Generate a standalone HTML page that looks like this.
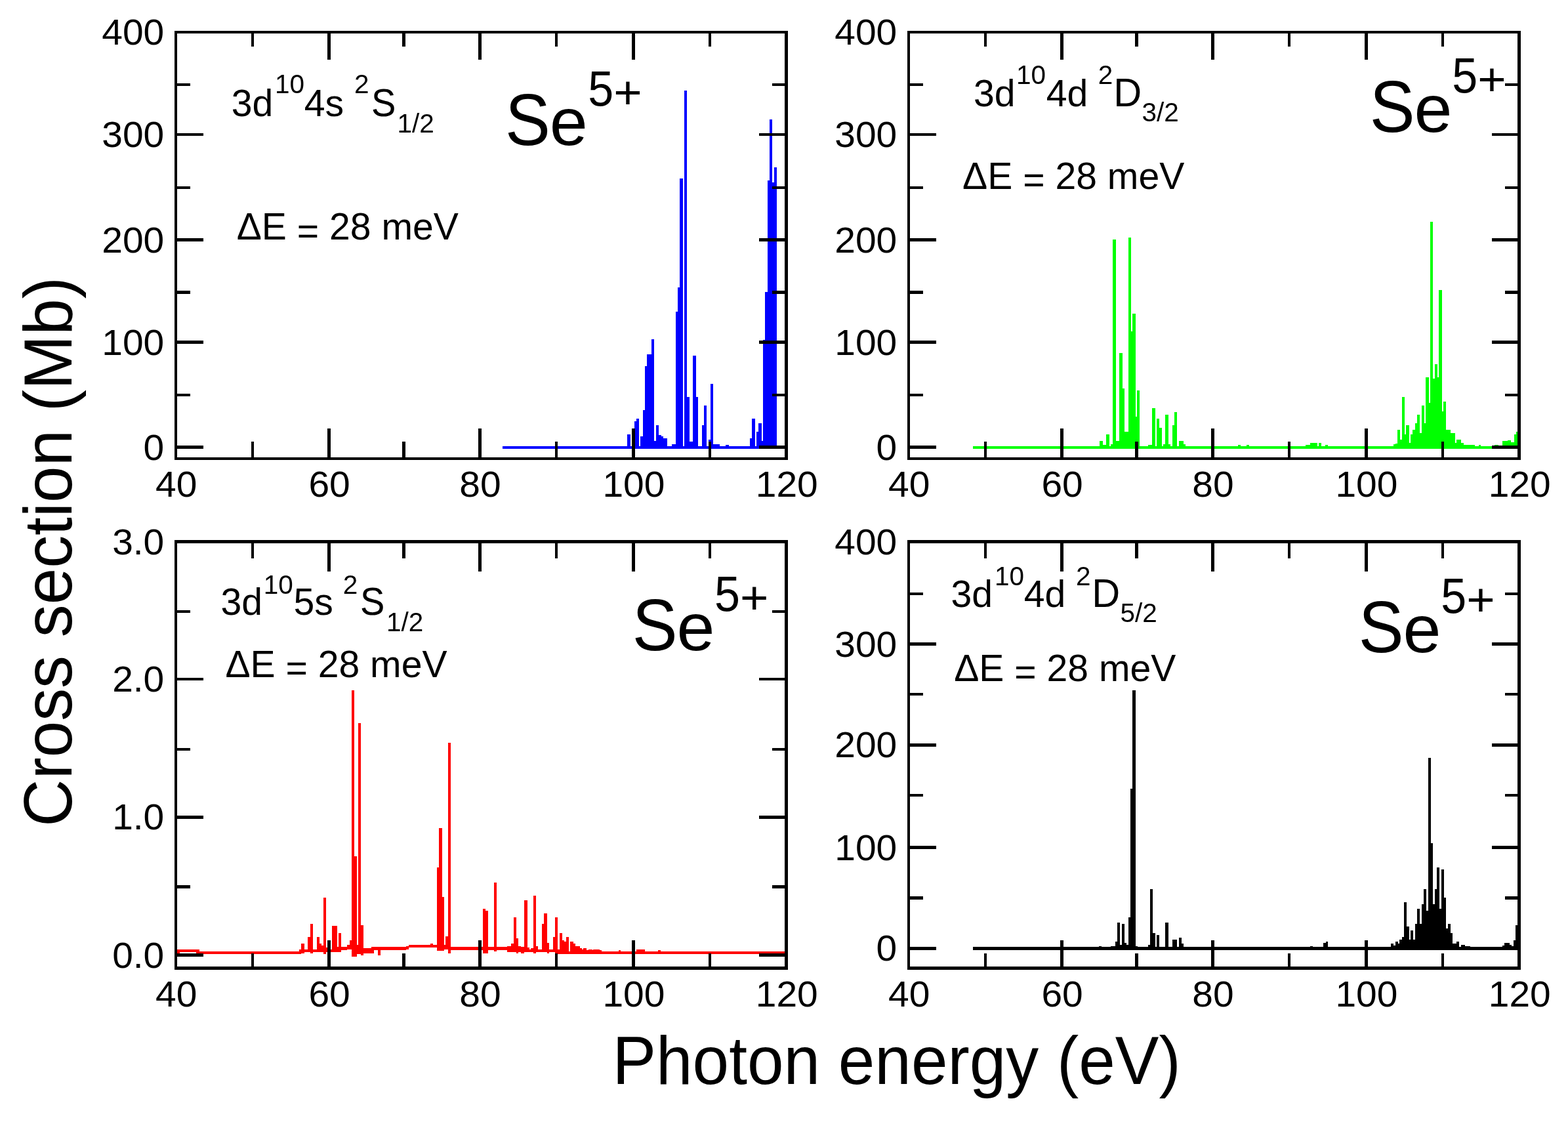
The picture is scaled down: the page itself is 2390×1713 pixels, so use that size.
<!DOCTYPE html><html><head><meta charset="utf-8"><title>Se5+ photoionization cross sections</title><style>html,body{margin:0;padding:0;background:#fff;overflow:hidden;}svg{display:block;}</style></head><body><svg width="2390" height="1713" viewBox="0 0 2390 1713" font-family='"Liberation Sans", Arial, Helvetica, sans-serif' fill="#000"><rect width="2390" height="1713" fill="#fff"/><g shape-rendering="crispEdges"><rect x="766.0" y="680.0" width="418.0" height="4.0" fill="#0000ff"/><rect x="956.2" y="662.0" width="4.5" height="22.0" fill="#0000ff"/><rect x="966.8" y="642.0" width="3.6" height="42.0" fill="#0000ff"/><rect x="970.4" y="638.4" width="3.4" height="45.6" fill="#0000ff"/><rect x="976.3" y="665.0" width="3.7" height="19.0" fill="#0000ff"/><rect x="980.0" y="625.0" width="3.0" height="59.0" fill="#0000ff"/><rect x="983.0" y="558.0" width="3.1" height="126.0" fill="#0000ff"/><rect x="986.1" y="540.2" width="7.0" height="143.8" fill="#0000ff"/><rect x="993.1" y="517.2" width="3.7" height="166.8" fill="#0000ff"/><rect x="996.8" y="672.0" width="3.2" height="12.0" fill="#0000ff"/><rect x="1000.0" y="648.0" width="4.0" height="36.0" fill="#0000ff"/><rect x="1004.0" y="663.0" width="4.3" height="21.0" fill="#0000ff"/><rect x="1008.3" y="664.8" width="2.4" height="19.2" fill="#0000ff"/><rect x="1010.7" y="668.0" width="6.3" height="16.0" fill="#0000ff"/><rect x="1024.0" y="676.8" width="6.0" height="7.2" fill="#0000ff"/><rect x="1030.0" y="474.7" width="3.2" height="209.3" fill="#0000ff"/><rect x="1033.2" y="437.8" width="2.8" height="246.2" fill="#0000ff"/><rect x="1036.0" y="272.2" width="5.0" height="411.8" fill="#0000ff"/><rect x="1042.8" y="137.9" width="4.2" height="546.1" fill="#0000ff"/><rect x="1047.0" y="604.8" width="3.7" height="79.2" fill="#0000ff"/><rect x="1050.7" y="673.0" width="5.2" height="11.0" fill="#0000ff"/><rect x="1055.9" y="542.0" width="4.9" height="142.0" fill="#0000ff"/><rect x="1060.8" y="604.8" width="2.8" height="79.2" fill="#0000ff"/><rect x="1070.0" y="648.0" width="2.8" height="36.0" fill="#0000ff"/><rect x="1072.8" y="618.0" width="4.2" height="66.0" fill="#0000ff"/><rect x="1079.7" y="670.0" width="3.3" height="14.0" fill="#0000ff"/><rect x="1083.0" y="585.0" width="3.7" height="99.0" fill="#0000ff"/><rect x="1086.7" y="676.8" width="10.3" height="7.2" fill="#0000ff"/><rect x="1106.0" y="677.7" width="5.0" height="6.3" fill="#0000ff"/><rect x="1142.8" y="667.8" width="3.2" height="16.2" fill="#0000ff"/><rect x="1146.0" y="637.9" width="4.8" height="46.1" fill="#0000ff"/><rect x="1153.2" y="657.9" width="2.8" height="26.1" fill="#0000ff"/><rect x="1156.0" y="644.8" width="5.0" height="39.2" fill="#0000ff"/><rect x="1161.0" y="671.6" width="2.1" height="12.4" fill="#0000ff"/><rect x="1163.1" y="517.8" width="2.9" height="166.2" fill="#0000ff"/><rect x="1166.0" y="445.0" width="4.0" height="239.0" fill="#0000ff"/><rect x="1170.0" y="274.8" width="3.1" height="409.2" fill="#0000ff"/><rect x="1173.1" y="181.9" width="4.0" height="502.1" fill="#0000ff"/><rect x="1177.1" y="278.0" width="2.9" height="406.0" fill="#0000ff"/><rect x="1180.0" y="254.8" width="4.0" height="429.2" fill="#0000ff"/></g><g shape-rendering="crispEdges"><rect x="1483.0" y="680.0" width="830.2" height="4.0" fill="#00ff00"/><rect x="1676.2" y="671.9" width="4.8" height="12.1" fill="#00ff00"/><rect x="1681.0" y="677.8" width="5.1" height="6.2" fill="#00ff00"/><rect x="1686.1" y="661.9" width="4.9" height="22.1" fill="#00ff00"/><rect x="1693.0" y="676.7" width="3.0" height="7.3" fill="#00ff00"/><rect x="1696.0" y="365.0" width="5.0" height="319.0" fill="#00ff00"/><rect x="1701.0" y="672.0" width="4.8" height="12.0" fill="#00ff00"/><rect x="1705.8" y="538.0" width="5.1" height="146.0" fill="#00ff00"/><rect x="1710.9" y="591.8" width="2.9" height="92.2" fill="#00ff00"/><rect x="1713.8" y="658.0" width="6.2" height="26.0" fill="#00ff00"/><rect x="1720.0" y="362.1" width="4.2" height="321.9" fill="#00ff00"/><rect x="1724.2" y="504.8" width="1.8" height="179.2" fill="#00ff00"/><rect x="1726.0" y="477.8" width="4.8" height="206.2" fill="#00ff00"/><rect x="1730.8" y="635.4" width="2.2" height="48.6" fill="#00ff00"/><rect x="1733.0" y="595.0" width="4.0" height="89.0" fill="#00ff00"/><rect x="1750.0" y="677.8" width="5.8" height="6.2" fill="#00ff00"/><rect x="1755.8" y="622.0" width="5.2" height="62.0" fill="#00ff00"/><rect x="1762.9" y="638.0" width="4.0" height="46.0" fill="#00ff00"/><rect x="1766.9" y="652.0" width="4.1" height="32.0" fill="#00ff00"/><rect x="1772.8" y="676.7" width="3.4" height="7.3" fill="#00ff00"/><rect x="1776.2" y="632.0" width="4.8" height="52.0" fill="#00ff00"/><rect x="1781.0" y="677.0" width="3.0" height="7.0" fill="#00ff00"/><rect x="1787.2" y="647.5" width="2.7" height="36.5" fill="#00ff00"/><rect x="1789.9" y="628.0" width="3.9" height="56.0" fill="#00ff00"/><rect x="1797.0" y="672.0" width="7.0" height="12.0" fill="#00ff00"/><rect x="1804.0" y="676.7" width="3.0" height="7.3" fill="#00ff00"/><rect x="1887.0" y="678.0" width="4.0" height="6.0" fill="#00ff00"/><rect x="1900.0" y="678.0" width="4.0" height="6.0" fill="#00ff00"/><rect x="1990.0" y="678.0" width="7.0" height="6.0" fill="#00ff00"/><rect x="1997.0" y="675.0" width="11.0" height="9.0" fill="#00ff00"/><rect x="2010.0" y="675.0" width="4.0" height="9.0" fill="#00ff00"/><rect x="2020.0" y="678.0" width="4.0" height="6.0" fill="#00ff00"/><rect x="2124.0" y="677.4" width="3.0" height="6.6" fill="#00ff00"/><rect x="2127.0" y="675.8" width="3.0" height="8.2" fill="#00ff00"/><rect x="2130.0" y="655.0" width="3.7" height="29.0" fill="#00ff00"/><rect x="2133.7" y="670.0" width="3.2" height="14.0" fill="#00ff00"/><rect x="2136.9" y="604.9" width="4.1" height="79.1" fill="#00ff00"/><rect x="2141.0" y="662.2" width="1.8" height="21.8" fill="#00ff00"/><rect x="2142.8" y="648.0" width="5.0" height="36.0" fill="#00ff00"/><rect x="2147.8" y="674.7" width="2.2" height="9.3" fill="#00ff00"/><rect x="2150.0" y="662.2" width="3.0" height="21.8" fill="#00ff00"/><rect x="2153.0" y="655.0" width="3.9" height="29.0" fill="#00ff00"/><rect x="2156.9" y="645.0" width="2.9" height="39.0" fill="#00ff00"/><rect x="2159.8" y="632.2" width="4.4" height="51.8" fill="#00ff00"/><rect x="2164.2" y="660.0" width="2.9" height="24.0" fill="#00ff00"/><rect x="2167.1" y="617.8" width="3.9" height="66.2" fill="#00ff00"/><rect x="2171.0" y="645.0" width="2.3" height="39.0" fill="#00ff00"/><rect x="2173.3" y="575.0" width="4.5" height="109.0" fill="#00ff00"/><rect x="2177.8" y="614.4" width="2.3" height="69.6" fill="#00ff00"/><rect x="2180.1" y="338.0" width="4.1" height="346.0" fill="#00ff00"/><rect x="2184.2" y="576.9" width="2.9" height="107.1" fill="#00ff00"/><rect x="2187.1" y="555.3" width="3.9" height="128.7" fill="#00ff00"/><rect x="2191.0" y="575.0" width="2.3" height="109.0" fill="#00ff00"/><rect x="2193.3" y="442.2" width="4.5" height="241.8" fill="#00ff00"/><rect x="2197.8" y="627.0" width="2.3" height="57.0" fill="#00ff00"/><rect x="2200.1" y="612.0" width="3.9" height="72.0" fill="#00ff00"/><rect x="2204.0" y="655.0" width="7.0" height="29.0" fill="#00ff00"/><rect x="2211.0" y="660.0" width="6.9" height="24.0" fill="#00ff00"/><rect x="2217.9" y="674.7" width="2.2" height="9.3" fill="#00ff00"/><rect x="2220.1" y="670.0" width="7.3" height="14.0" fill="#00ff00"/><rect x="2227.4" y="674.7" width="3.4" height="9.3" fill="#00ff00"/><rect x="2230.8" y="677.7" width="17.2" height="6.3" fill="#00ff00"/><rect x="2253.6" y="677.7" width="3.4" height="6.3" fill="#00ff00"/><rect x="2277.5" y="677.7" width="6.3" height="6.3" fill="#00ff00"/><rect x="2290.0" y="672.4" width="8.0" height="11.6" fill="#00ff00"/><rect x="2298.0" y="671.3" width="4.5" height="12.7" fill="#00ff00"/><rect x="2302.5" y="673.6" width="5.0" height="10.4" fill="#00ff00"/><rect x="2307.5" y="661.7" width="3.0" height="22.3" fill="#00ff00"/><rect x="2310.5" y="657.6" width="2.7" height="26.4" fill="#00ff00"/></g><g shape-rendering="crispEdges"><rect x="270.0" y="1446.9" width="3.9" height="6.1" fill="#ff0000"/><rect x="273.9" y="1446.9" width="25.0" height="4.1" fill="#ff0000"/><rect x="298.9" y="1446.9" width="4.6" height="6.1" fill="#ff0000"/><rect x="303.5" y="1450.3" width="152.3" height="3.5" fill="#ff0000"/><rect x="455.8" y="1447.1" width="3.5" height="6.7" fill="#ff0000"/><rect x="459.3" y="1447.1" width="44.7" height="3.9" fill="#ff0000"/><rect x="504.0" y="1446.9" width="16.0" height="4.1" fill="#ff0000"/><rect x="520.0" y="1442.9" width="8.8" height="5.1" fill="#ff0000"/><rect x="528.8" y="1440.0" width="7.2" height="7.0" fill="#ff0000"/><rect x="536.0" y="1440.0" width="18.0" height="13.8" fill="#ff0000"/><rect x="554.0" y="1445.0" width="15.0" height="8.0" fill="#ff0000"/><rect x="569.0" y="1443.2" width="49.6" height="4.3" fill="#ff0000"/><rect x="618.6" y="1442.2" width="4.4" height="4.3" fill="#ff0000"/><rect x="623.0" y="1440.0" width="43.0" height="3.6" fill="#ff0000"/><rect x="666.0" y="1440.0" width="21.0" height="7.0" fill="#ff0000"/><rect x="687.0" y="1443.2" width="86.0" height="4.6" fill="#ff0000"/><rect x="773.0" y="1447.0" width="83.0" height="4.0" fill="#ff0000"/><rect x="856.0" y="1450.0" width="340.5" height="3.7" fill="#ff0000"/><rect x="459.3" y="1438.1" width="4.7" height="14.9" fill="#ff0000"/><rect x="469.0" y="1427.5" width="4.0" height="23.5" fill="#ff0000"/><rect x="473.0" y="1408.1" width="4.0" height="44.9" fill="#ff0000"/><rect x="483.0" y="1428.1" width="4.0" height="22.9" fill="#ff0000"/><rect x="487.0" y="1438.1" width="3.0" height="12.9" fill="#ff0000"/><rect x="490.0" y="1440.5" width="2.9" height="10.5" fill="#ff0000"/><rect x="492.9" y="1368.4" width="3.9" height="85.4" fill="#ff0000"/><rect x="496.8" y="1443.5" width="2.4" height="7.5" fill="#ff0000"/><rect x="506.0" y="1411.0" width="8.0" height="40.0" fill="#ff0000"/><rect x="514.0" y="1442.9" width="2.0" height="8.1" fill="#ff0000"/><rect x="516.0" y="1422.0" width="4.0" height="29.0" fill="#ff0000"/><rect x="528.8" y="1440.0" width="4.2" height="7.0" fill="#ff0000"/><rect x="533.0" y="1433.1" width="3.0" height="13.9" fill="#ff0000"/><rect x="536.0" y="1052.2" width="4.2" height="405.5" fill="#ff0000"/><rect x="540.2" y="1305.3" width="3.7" height="152.4" fill="#ff0000"/><rect x="543.9" y="1440.0" width="2.1" height="13.8" fill="#ff0000"/><rect x="546.0" y="1102.0" width="4.0" height="351.8" fill="#ff0000"/><rect x="550.0" y="1410.1" width="4.0" height="45.8" fill="#ff0000"/><rect x="559.0" y="1445.0" width="4.8" height="8.0" fill="#ff0000"/><rect x="566.0" y="1443.2" width="4.0" height="9.8" fill="#ff0000"/><rect x="575.9" y="1446.0" width="3.9" height="9.8" fill="#ff0000"/><rect x="656.0" y="1438.0" width="3.8" height="5.6" fill="#ff0000"/><rect x="665.8" y="1322.1" width="3.1" height="126.4" fill="#ff0000"/><rect x="668.9" y="1261.9" width="5.0" height="186.6" fill="#ff0000"/><rect x="673.9" y="1367.0" width="2.8" height="81.5" fill="#ff0000"/><rect x="679.2" y="1427.2" width="3.8" height="19.8" fill="#ff0000"/><rect x="683.0" y="1131.9" width="3.8" height="321.0" fill="#ff0000"/><rect x="736.0" y="1385.3" width="4.2" height="67.6" fill="#ff0000"/><rect x="740.2" y="1387.9" width="3.8" height="65.0" fill="#ff0000"/><rect x="753.1" y="1344.9" width="4.0" height="105.5" fill="#ff0000"/><rect x="773.0" y="1442.0" width="6.0" height="9.0" fill="#ff0000"/><rect x="779.0" y="1438.0" width="4.0" height="13.0" fill="#ff0000"/><rect x="783.0" y="1398.0" width="4.0" height="53.0" fill="#ff0000"/><rect x="787.0" y="1430.0" width="3.0" height="22.7" fill="#ff0000"/><rect x="790.0" y="1442.0" width="4.0" height="9.0" fill="#ff0000"/><rect x="794.0" y="1443.0" width="5.0" height="9.7" fill="#ff0000"/><rect x="799.0" y="1372.0" width="4.7" height="79.0" fill="#ff0000"/><rect x="803.7" y="1444.0" width="3.1" height="7.0" fill="#ff0000"/><rect x="809.2" y="1445.0" width="3.8" height="6.0" fill="#ff0000"/><rect x="813.0" y="1365.0" width="4.0" height="87.7" fill="#ff0000"/><rect x="817.0" y="1442.0" width="3.0" height="9.0" fill="#ff0000"/><rect x="826.0" y="1408.0" width="3.0" height="43.0" fill="#ff0000"/><rect x="829.0" y="1392.0" width="5.0" height="59.0" fill="#ff0000"/><rect x="834.0" y="1437.0" width="2.8" height="15.7" fill="#ff0000"/><rect x="843.0" y="1428.0" width="3.0" height="23.0" fill="#ff0000"/><rect x="846.0" y="1398.0" width="4.0" height="55.5" fill="#ff0000"/><rect x="850.0" y="1447.0" width="2.9" height="6.5" fill="#ff0000"/><rect x="852.9" y="1422.0" width="4.1" height="31.5" fill="#ff0000"/><rect x="857.0" y="1433.0" width="3.4" height="20.5" fill="#ff0000"/><rect x="860.4" y="1435.0" width="2.6" height="18.5" fill="#ff0000"/><rect x="863.0" y="1428.0" width="4.0" height="25.7" fill="#ff0000"/><rect x="869.0" y="1435.0" width="5.0" height="18.7" fill="#ff0000"/><rect x="874.0" y="1438.0" width="3.0" height="15.7" fill="#ff0000"/><rect x="877.0" y="1442.0" width="6.8" height="11.7" fill="#ff0000"/><rect x="883.8" y="1445.0" width="3.2" height="8.7" fill="#ff0000"/><rect x="887.0" y="1447.0" width="2.0" height="6.7" fill="#ff0000"/><rect x="889.0" y="1445.0" width="5.0" height="8.7" fill="#ff0000"/><rect x="894.0" y="1448.0" width="3.3" height="5.7" fill="#ff0000"/><rect x="897.3" y="1447.0" width="5.6" height="6.7" fill="#ff0000"/><rect x="902.9" y="1448.0" width="1.1" height="5.7" fill="#ff0000"/><rect x="904.0" y="1447.0" width="10.0" height="6.7" fill="#ff0000"/><rect x="914.0" y="1448.0" width="3.0" height="5.7" fill="#ff0000"/><rect x="943.0" y="1448.0" width="3.0" height="5.7" fill="#ff0000"/><rect x="970.0" y="1447.0" width="13.0" height="6.7" fill="#ff0000"/><rect x="1003.0" y="1448.0" width="4.0" height="5.7" fill="#ff0000"/></g><g shape-rendering="crispEdges"><rect x="1483.0" y="1443.0" width="830.2" height="4.8" fill="#000000"/><rect x="1675.0" y="1442.0" width="4.0" height="5.8" fill="#000000"/><rect x="1693.0" y="1442.0" width="7.0" height="5.8" fill="#000000"/><rect x="1700.0" y="1435.2" width="3.3" height="12.6" fill="#000000"/><rect x="1703.3" y="1405.5" width="3.5" height="42.3" fill="#000000"/><rect x="1706.8" y="1440.0" width="3.2" height="7.8" fill="#000000"/><rect x="1710.0" y="1408.2" width="3.6" height="39.6" fill="#000000"/><rect x="1713.6" y="1437.4" width="3.2" height="10.4" fill="#000000"/><rect x="1716.8" y="1440.0" width="3.3" height="7.8" fill="#000000"/><rect x="1720.1" y="1398.1" width="3.0" height="49.7" fill="#000000"/><rect x="1723.1" y="1202.4" width="3.2" height="245.4" fill="#000000"/><rect x="1726.3" y="1052.2" width="4.6" height="395.6" fill="#000000"/><rect x="1730.9" y="1442.0" width="3.5" height="5.8" fill="#000000"/><rect x="1750.1" y="1440.0" width="3.3" height="7.8" fill="#000000"/><rect x="1753.4" y="1355.4" width="3.5" height="92.4" fill="#000000"/><rect x="1756.9" y="1422.2" width="3.8" height="25.6" fill="#000000"/><rect x="1762.9" y="1425.0" width="4.0" height="22.8" fill="#000000"/><rect x="1776.4" y="1405.5" width="4.3" height="42.3" fill="#000000"/><rect x="1787.2" y="1432.0" width="6.3" height="15.8" fill="#000000"/><rect x="1797.2" y="1428.5" width="3.6" height="19.3" fill="#000000"/><rect x="1800.8" y="1438.0" width="2.7" height="9.8" fill="#000000"/><rect x="1997.0" y="1442.0" width="4.0" height="5.8" fill="#000000"/><rect x="2017.0" y="1437.0" width="4.0" height="10.8" fill="#000000"/><rect x="2021.0" y="1435.0" width="3.0" height="12.8" fill="#000000"/><rect x="2120.3" y="1437.9" width="3.5" height="9.9" fill="#000000"/><rect x="2123.8" y="1441.3" width="3.4" height="6.5" fill="#000000"/><rect x="2127.2" y="1434.8" width="3.4" height="13.0" fill="#000000"/><rect x="2130.6" y="1437.9" width="2.6" height="9.9" fill="#000000"/><rect x="2133.2" y="1431.9" width="3.8" height="15.9" fill="#000000"/><rect x="2137.0" y="1428.0" width="3.1" height="19.8" fill="#000000"/><rect x="2140.1" y="1375.0" width="3.8" height="72.8" fill="#000000"/><rect x="2143.9" y="1412.0" width="4.0" height="35.8" fill="#000000"/><rect x="2147.9" y="1431.9" width="2.0" height="15.9" fill="#000000"/><rect x="2149.9" y="1418.0" width="4.0" height="29.8" fill="#000000"/><rect x="2153.9" y="1431.9" width="3.3" height="15.9" fill="#000000"/><rect x="2157.2" y="1408.3" width="3.1" height="39.5" fill="#000000"/><rect x="2160.3" y="1385.0" width="3.7" height="62.8" fill="#000000"/><rect x="2164.0" y="1408.3" width="3.1" height="39.5" fill="#000000"/><rect x="2167.1" y="1378.2" width="3.1" height="69.6" fill="#000000"/><rect x="2170.2" y="1354.9" width="3.8" height="92.9" fill="#000000"/><rect x="2174.0" y="1388.0" width="3.1" height="59.8" fill="#000000"/><rect x="2177.1" y="1155.0" width="3.9" height="292.8" fill="#000000"/><rect x="2181.0" y="1285.0" width="3.0" height="162.8" fill="#000000"/><rect x="2184.0" y="1378.2" width="3.4" height="69.6" fill="#000000"/><rect x="2187.4" y="1354.9" width="2.6" height="92.9" fill="#000000"/><rect x="2190.0" y="1322.0" width="4.2" height="125.8" fill="#000000"/><rect x="2194.2" y="1385.0" width="3.1" height="62.8" fill="#000000"/><rect x="2197.3" y="1325.1" width="3.7" height="122.7" fill="#000000"/><rect x="2201.0" y="1368.2" width="3.1" height="79.6" fill="#000000"/><rect x="2204.1" y="1414.6" width="3.0" height="33.2" fill="#000000"/><rect x="2207.1" y="1408.1" width="3.6" height="39.7" fill="#000000"/><rect x="2210.7" y="1422.0" width="2.9" height="25.8" fill="#000000"/><rect x="2213.6" y="1437.9" width="6.5" height="9.9" fill="#000000"/><rect x="2220.1" y="1434.8" width="3.5" height="13.0" fill="#000000"/><rect x="2227.4" y="1440.0" width="6.0" height="7.8" fill="#000000"/><rect x="2233.4" y="1442.2" width="7.8" height="5.6" fill="#000000"/><rect x="2290.2" y="1440.5" width="2.6" height="7.3" fill="#000000"/><rect x="2292.8" y="1437.0" width="7.7" height="10.8" fill="#000000"/><rect x="2300.5" y="1440.0" width="3.5" height="7.8" fill="#000000"/><rect x="2304.0" y="1442.0" width="3.4" height="5.8" fill="#000000"/><rect x="2307.4" y="1433.0" width="3.0" height="14.8" fill="#000000"/><rect x="2310.4" y="1410.0" width="2.7" height="37.8" fill="#000000"/></g><g shape-rendering="crispEdges"><rect x="268.0" y="49.0" width="930.5" height="650.0" fill="none" stroke="#000" stroke-width="4.6"/><line x1="385.0" y1="699.0" x2="385.0" y2="673.0" stroke="#000" stroke-width="4.6"/><line x1="385.0" y1="49.0" x2="385.0" y2="71.0" stroke="#000" stroke-width="4.6"/><line x1="501.4" y1="699.0" x2="501.4" y2="653.0" stroke="#000" stroke-width="4.6"/><line x1="501.4" y1="49.0" x2="501.4" y2="91.0" stroke="#000" stroke-width="4.6"/><line x1="615.3" y1="699.0" x2="615.3" y2="673.0" stroke="#000" stroke-width="4.6"/><line x1="615.3" y1="49.0" x2="615.3" y2="71.0" stroke="#000" stroke-width="4.6"/><line x1="731.3" y1="699.0" x2="731.3" y2="653.0" stroke="#000" stroke-width="4.6"/><line x1="731.3" y1="49.0" x2="731.3" y2="91.0" stroke="#000" stroke-width="4.6"/><line x1="848.0" y1="699.0" x2="848.0" y2="673.0" stroke="#000" stroke-width="4.6"/><line x1="848.0" y1="49.0" x2="848.0" y2="71.0" stroke="#000" stroke-width="4.6"/><line x1="965.2" y1="699.0" x2="965.2" y2="653.0" stroke="#000" stroke-width="4.6"/><line x1="965.2" y1="49.0" x2="965.2" y2="91.0" stroke="#000" stroke-width="4.6"/><line x1="1082.0" y1="699.0" x2="1082.0" y2="673.0" stroke="#000" stroke-width="4.6"/><line x1="1082.0" y1="49.0" x2="1082.0" y2="71.0" stroke="#000" stroke-width="4.6"/><line x1="268.0" y1="681.5" x2="310.0" y2="681.5" stroke="#000" stroke-width="4.6"/><line x1="1198.5" y1="681.5" x2="1156.5" y2="681.5" stroke="#000" stroke-width="4.6"/><line x1="268.0" y1="601.8" x2="290.0" y2="601.8" stroke="#000" stroke-width="4.6"/><line x1="1198.5" y1="601.8" x2="1176.5" y2="601.8" stroke="#000" stroke-width="4.6"/><line x1="268.0" y1="521.5" x2="310.0" y2="521.5" stroke="#000" stroke-width="4.6"/><line x1="1198.5" y1="521.5" x2="1156.5" y2="521.5" stroke="#000" stroke-width="4.6"/><line x1="268.0" y1="445.2" x2="290.0" y2="445.2" stroke="#000" stroke-width="4.6"/><line x1="1198.5" y1="445.2" x2="1176.5" y2="445.2" stroke="#000" stroke-width="4.6"/><line x1="268.0" y1="365.5" x2="310.0" y2="365.5" stroke="#000" stroke-width="4.6"/><line x1="1198.5" y1="365.5" x2="1156.5" y2="365.5" stroke="#000" stroke-width="4.6"/><line x1="268.0" y1="285.8" x2="290.0" y2="285.8" stroke="#000" stroke-width="4.6"/><line x1="1198.5" y1="285.8" x2="1176.5" y2="285.8" stroke="#000" stroke-width="4.6"/><line x1="268.0" y1="205.1" x2="310.0" y2="205.1" stroke="#000" stroke-width="4.6"/><line x1="1198.5" y1="205.1" x2="1156.5" y2="205.1" stroke="#000" stroke-width="4.6"/><line x1="268.0" y1="128.8" x2="290.0" y2="128.8" stroke="#000" stroke-width="4.6"/><line x1="1198.5" y1="128.8" x2="1176.5" y2="128.8" stroke="#000" stroke-width="4.6"/></g><g shape-rendering="crispEdges"><rect x="1385.0" y="49.0" width="930.5" height="650.0" fill="none" stroke="#000" stroke-width="4.6"/><line x1="1502.0" y1="699.0" x2="1502.0" y2="673.0" stroke="#000" stroke-width="4.6"/><line x1="1502.0" y1="49.0" x2="1502.0" y2="71.0" stroke="#000" stroke-width="4.6"/><line x1="1618.4" y1="699.0" x2="1618.4" y2="653.0" stroke="#000" stroke-width="4.6"/><line x1="1618.4" y1="49.0" x2="1618.4" y2="91.0" stroke="#000" stroke-width="4.6"/><line x1="1732.3" y1="699.0" x2="1732.3" y2="673.0" stroke="#000" stroke-width="4.6"/><line x1="1732.3" y1="49.0" x2="1732.3" y2="71.0" stroke="#000" stroke-width="4.6"/><line x1="1848.3" y1="699.0" x2="1848.3" y2="653.0" stroke="#000" stroke-width="4.6"/><line x1="1848.3" y1="49.0" x2="1848.3" y2="91.0" stroke="#000" stroke-width="4.6"/><line x1="1965.0" y1="699.0" x2="1965.0" y2="673.0" stroke="#000" stroke-width="4.6"/><line x1="1965.0" y1="49.0" x2="1965.0" y2="71.0" stroke="#000" stroke-width="4.6"/><line x1="2082.2" y1="699.0" x2="2082.2" y2="653.0" stroke="#000" stroke-width="4.6"/><line x1="2082.2" y1="49.0" x2="2082.2" y2="91.0" stroke="#000" stroke-width="4.6"/><line x1="2199.0" y1="699.0" x2="2199.0" y2="673.0" stroke="#000" stroke-width="4.6"/><line x1="2199.0" y1="49.0" x2="2199.0" y2="71.0" stroke="#000" stroke-width="4.6"/><line x1="1385.0" y1="681.5" x2="1427.0" y2="681.5" stroke="#000" stroke-width="4.6"/><line x1="2315.5" y1="681.5" x2="2273.5" y2="681.5" stroke="#000" stroke-width="4.6"/><line x1="1385.0" y1="601.8" x2="1407.0" y2="601.8" stroke="#000" stroke-width="4.6"/><line x1="2315.5" y1="601.8" x2="2293.5" y2="601.8" stroke="#000" stroke-width="4.6"/><line x1="1385.0" y1="521.5" x2="1427.0" y2="521.5" stroke="#000" stroke-width="4.6"/><line x1="2315.5" y1="521.5" x2="2273.5" y2="521.5" stroke="#000" stroke-width="4.6"/><line x1="1385.0" y1="445.2" x2="1407.0" y2="445.2" stroke="#000" stroke-width="4.6"/><line x1="2315.5" y1="445.2" x2="2293.5" y2="445.2" stroke="#000" stroke-width="4.6"/><line x1="1385.0" y1="365.5" x2="1427.0" y2="365.5" stroke="#000" stroke-width="4.6"/><line x1="2315.5" y1="365.5" x2="2273.5" y2="365.5" stroke="#000" stroke-width="4.6"/><line x1="1385.0" y1="285.8" x2="1407.0" y2="285.8" stroke="#000" stroke-width="4.6"/><line x1="2315.5" y1="285.8" x2="2293.5" y2="285.8" stroke="#000" stroke-width="4.6"/><line x1="1385.0" y1="205.1" x2="1427.0" y2="205.1" stroke="#000" stroke-width="4.6"/><line x1="2315.5" y1="205.1" x2="2273.5" y2="205.1" stroke="#000" stroke-width="4.6"/><line x1="1385.0" y1="128.8" x2="1407.0" y2="128.8" stroke="#000" stroke-width="4.6"/><line x1="2315.5" y1="128.8" x2="2293.5" y2="128.8" stroke="#000" stroke-width="4.6"/></g><g shape-rendering="crispEdges"><rect x="268.0" y="825.5" width="930.5" height="650.0" fill="none" stroke="#000" stroke-width="4.6"/><line x1="385.0" y1="1475.5" x2="385.0" y2="1453.0" stroke="#000" stroke-width="4.6"/><line x1="385.0" y1="825.5" x2="385.0" y2="851.0" stroke="#000" stroke-width="4.6"/><line x1="501.4" y1="1475.5" x2="501.4" y2="1433.0" stroke="#000" stroke-width="4.6"/><line x1="501.4" y1="825.5" x2="501.4" y2="871.0" stroke="#000" stroke-width="4.6"/><line x1="615.3" y1="1475.5" x2="615.3" y2="1453.0" stroke="#000" stroke-width="4.6"/><line x1="615.3" y1="825.5" x2="615.3" y2="851.0" stroke="#000" stroke-width="4.6"/><line x1="731.3" y1="1475.5" x2="731.3" y2="1433.0" stroke="#000" stroke-width="4.6"/><line x1="731.3" y1="825.5" x2="731.3" y2="871.0" stroke="#000" stroke-width="4.6"/><line x1="848.0" y1="1475.5" x2="848.0" y2="1453.0" stroke="#000" stroke-width="4.6"/><line x1="848.0" y1="825.5" x2="848.0" y2="851.0" stroke="#000" stroke-width="4.6"/><line x1="965.2" y1="1475.5" x2="965.2" y2="1433.0" stroke="#000" stroke-width="4.6"/><line x1="965.2" y1="825.5" x2="965.2" y2="871.0" stroke="#000" stroke-width="4.6"/><line x1="1082.0" y1="1475.5" x2="1082.0" y2="1453.0" stroke="#000" stroke-width="4.6"/><line x1="1082.0" y1="825.5" x2="1082.0" y2="851.0" stroke="#000" stroke-width="4.6"/><line x1="268.0" y1="1455.5" x2="310.0" y2="1455.5" stroke="#000" stroke-width="4.6"/><line x1="1198.5" y1="1455.5" x2="1156.5" y2="1455.5" stroke="#000" stroke-width="4.6"/><line x1="268.0" y1="1351.4" x2="290.0" y2="1351.4" stroke="#000" stroke-width="4.6"/><line x1="1198.5" y1="1351.4" x2="1176.5" y2="1351.4" stroke="#000" stroke-width="4.6"/><line x1="268.0" y1="1245.4" x2="310.0" y2="1245.4" stroke="#000" stroke-width="4.6"/><line x1="1198.5" y1="1245.4" x2="1156.5" y2="1245.4" stroke="#000" stroke-width="4.6"/><line x1="268.0" y1="1141.8" x2="290.0" y2="1141.8" stroke="#000" stroke-width="4.6"/><line x1="1198.5" y1="1141.8" x2="1176.5" y2="1141.8" stroke="#000" stroke-width="4.6"/><line x1="268.0" y1="1034.9" x2="310.0" y2="1034.9" stroke="#000" stroke-width="4.6"/><line x1="1198.5" y1="1034.9" x2="1156.5" y2="1034.9" stroke="#000" stroke-width="4.6"/><line x1="268.0" y1="932.0" x2="290.0" y2="932.0" stroke="#000" stroke-width="4.6"/><line x1="1198.5" y1="932.0" x2="1176.5" y2="932.0" stroke="#000" stroke-width="4.6"/></g><g shape-rendering="crispEdges"><rect x="1385.0" y="825.5" width="930.5" height="650.0" fill="none" stroke="#000" stroke-width="4.6"/><line x1="1502.0" y1="1475.5" x2="1502.0" y2="1453.0" stroke="#000" stroke-width="4.6"/><line x1="1502.0" y1="825.5" x2="1502.0" y2="851.0" stroke="#000" stroke-width="4.6"/><line x1="1618.4" y1="1475.5" x2="1618.4" y2="1433.0" stroke="#000" stroke-width="4.6"/><line x1="1618.4" y1="825.5" x2="1618.4" y2="871.0" stroke="#000" stroke-width="4.6"/><line x1="1732.3" y1="1475.5" x2="1732.3" y2="1453.0" stroke="#000" stroke-width="4.6"/><line x1="1732.3" y1="825.5" x2="1732.3" y2="851.0" stroke="#000" stroke-width="4.6"/><line x1="1848.3" y1="1475.5" x2="1848.3" y2="1433.0" stroke="#000" stroke-width="4.6"/><line x1="1848.3" y1="825.5" x2="1848.3" y2="871.0" stroke="#000" stroke-width="4.6"/><line x1="1965.0" y1="1475.5" x2="1965.0" y2="1453.0" stroke="#000" stroke-width="4.6"/><line x1="1965.0" y1="825.5" x2="1965.0" y2="851.0" stroke="#000" stroke-width="4.6"/><line x1="2082.2" y1="1475.5" x2="2082.2" y2="1433.0" stroke="#000" stroke-width="4.6"/><line x1="2082.2" y1="825.5" x2="2082.2" y2="871.0" stroke="#000" stroke-width="4.6"/><line x1="2199.0" y1="1475.5" x2="2199.0" y2="1453.0" stroke="#000" stroke-width="4.6"/><line x1="2199.0" y1="825.5" x2="2199.0" y2="851.0" stroke="#000" stroke-width="4.6"/><line x1="1385.0" y1="1445.3" x2="1427.0" y2="1445.3" stroke="#000" stroke-width="4.6"/><line x1="2315.5" y1="1445.3" x2="2273.5" y2="1445.3" stroke="#000" stroke-width="4.6"/><line x1="1385.0" y1="1368.5" x2="1407.0" y2="1368.5" stroke="#000" stroke-width="4.6"/><line x1="2315.5" y1="1368.5" x2="2293.5" y2="1368.5" stroke="#000" stroke-width="4.6"/><line x1="1385.0" y1="1291.5" x2="1427.0" y2="1291.5" stroke="#000" stroke-width="4.6"/><line x1="2315.5" y1="1291.5" x2="2273.5" y2="1291.5" stroke="#000" stroke-width="4.6"/><line x1="1385.0" y1="1212.0" x2="1407.0" y2="1212.0" stroke="#000" stroke-width="4.6"/><line x1="2315.5" y1="1212.0" x2="2293.5" y2="1212.0" stroke="#000" stroke-width="4.6"/><line x1="1385.0" y1="1135.3" x2="1427.0" y2="1135.3" stroke="#000" stroke-width="4.6"/><line x1="2315.5" y1="1135.3" x2="2273.5" y2="1135.3" stroke="#000" stroke-width="4.6"/><line x1="1385.0" y1="1058.0" x2="1407.0" y2="1058.0" stroke="#000" stroke-width="4.6"/><line x1="2315.5" y1="1058.0" x2="2293.5" y2="1058.0" stroke="#000" stroke-width="4.6"/><line x1="1385.0" y1="981.5" x2="1427.0" y2="981.5" stroke="#000" stroke-width="4.6"/><line x1="2315.5" y1="981.5" x2="2273.5" y2="981.5" stroke="#000" stroke-width="4.6"/><line x1="1385.0" y1="905.0" x2="1407.0" y2="905.0" stroke="#000" stroke-width="4.6"/><line x1="2315.5" y1="905.0" x2="2293.5" y2="905.0" stroke="#000" stroke-width="4.6"/></g><g><text transform="translate(268.70 757.15) scale(1.025 1)" font-size="55.5" text-anchor="middle">40</text><text transform="translate(502.10 757.15) scale(1.025 1)" font-size="55.5" text-anchor="middle">60</text><text transform="translate(732.00 757.15) scale(1.025 1)" font-size="55.5" text-anchor="middle">80</text><text transform="translate(965.90 757.15) scale(1.025 1)" font-size="55.5" text-anchor="middle">100</text><text transform="translate(1199.20 757.15) scale(1.025 1)" font-size="55.5" text-anchor="middle">120</text><text transform="translate(250.25 700.60) scale(1.025 1)" font-size="55.5" text-anchor="end">0</text><text transform="translate(250.25 540.60) scale(1.025 1)" font-size="55.5" text-anchor="end">100</text><text transform="translate(250.25 384.60) scale(1.025 1)" font-size="55.5" text-anchor="end">200</text><text transform="translate(250.25 224.20) scale(1.025 1)" font-size="55.5" text-anchor="end">300</text><text transform="translate(250.25 68.10) scale(1.025 1)" font-size="55.5" text-anchor="end">400</text><text transform="translate(1385.70 757.15) scale(1.025 1)" font-size="55.5" text-anchor="middle">40</text><text transform="translate(1619.10 757.15) scale(1.025 1)" font-size="55.5" text-anchor="middle">60</text><text transform="translate(1849.00 757.15) scale(1.025 1)" font-size="55.5" text-anchor="middle">80</text><text transform="translate(2082.90 757.15) scale(1.025 1)" font-size="55.5" text-anchor="middle">100</text><text transform="translate(2316.20 757.15) scale(1.025 1)" font-size="55.5" text-anchor="middle">120</text><text transform="translate(1367.25 700.60) scale(1.025 1)" font-size="55.5" text-anchor="end">0</text><text transform="translate(1367.25 540.60) scale(1.025 1)" font-size="55.5" text-anchor="end">100</text><text transform="translate(1367.25 384.60) scale(1.025 1)" font-size="55.5" text-anchor="end">200</text><text transform="translate(1367.25 224.20) scale(1.025 1)" font-size="55.5" text-anchor="end">300</text><text transform="translate(1367.25 68.10) scale(1.025 1)" font-size="55.5" text-anchor="end">400</text><text transform="translate(268.70 1534.25) scale(1.025 1)" font-size="55.5" text-anchor="middle">40</text><text transform="translate(502.10 1534.25) scale(1.025 1)" font-size="55.5" text-anchor="middle">60</text><text transform="translate(732.00 1534.25) scale(1.025 1)" font-size="55.5" text-anchor="middle">80</text><text transform="translate(965.90 1534.25) scale(1.025 1)" font-size="55.5" text-anchor="middle">100</text><text transform="translate(1199.20 1534.25) scale(1.025 1)" font-size="55.5" text-anchor="middle">120</text><text transform="translate(250.25 1474.50) scale(1.025 1)" font-size="55.5" text-anchor="end">0.0</text><text transform="translate(250.25 1264.40) scale(1.025 1)" font-size="55.5" text-anchor="end">1.0</text><text transform="translate(250.25 1053.90) scale(1.025 1)" font-size="55.5" text-anchor="end">2.0</text><text transform="translate(250.25 844.50) scale(1.025 1)" font-size="55.5" text-anchor="end">3.0</text><text transform="translate(1385.70 1534.25) scale(1.025 1)" font-size="55.5" text-anchor="middle">40</text><text transform="translate(1619.10 1534.25) scale(1.025 1)" font-size="55.5" text-anchor="middle">60</text><text transform="translate(1849.00 1534.25) scale(1.025 1)" font-size="55.5" text-anchor="middle">80</text><text transform="translate(2082.90 1534.25) scale(1.025 1)" font-size="55.5" text-anchor="middle">100</text><text transform="translate(2316.20 1534.25) scale(1.025 1)" font-size="55.5" text-anchor="middle">120</text><text transform="translate(1367.25 1464.40) scale(1.025 1)" font-size="55.5" text-anchor="end">0</text><text transform="translate(1367.25 1310.60) scale(1.025 1)" font-size="55.5" text-anchor="end">100</text><text transform="translate(1367.25 1154.40) scale(1.025 1)" font-size="55.5" text-anchor="end">200</text><text transform="translate(1367.25 1000.60) scale(1.025 1)" font-size="55.5" text-anchor="end">300</text><text transform="translate(1367.25 844.60) scale(1.025 1)" font-size="55.5" text-anchor="end">400</text></g><g><text transform="translate(352.71 177.00) scale(0.985 1)" font-size="58.0">3d</text><text x="418.97" y="141.80" font-size="40.5">10</text><text transform="translate(463.66 177.00) scale(0.985 1)" font-size="58.0">4s</text><text x="539.98" y="141.80" font-size="40.5">2</text><text transform="translate(566.00 177.00) scale(0.95 1)" font-size="59.0">S</text><text x="605.56" y="202.00" font-size="40.5">1/2</text><text transform="translate(769.94 220.80) scale(0.929 1)" font-size="111.1">S</text><text transform="translate(837.72 220.80) scale(1.02 1)" font-size="102.2">e</text><text transform="translate(896.20 161.25) scale(0.93 1)" font-size="75.3">5</text><text transform="translate(935.16 165.37) scale(1.07 1)" font-size="69.5">+</text><text transform="translate(360.69 365.20) scale(0.985 1)" font-size="58.0">ΔE <tspan dy="6.3">=</tspan><tspan dy="-6.3"> 28 meV</tspan></text><text transform="translate(1483.91 161.50) scale(0.985 1)" font-size="58.0">3d</text><text x="1548.96" y="128.10" font-size="40.5">10</text><text transform="translate(1594.86 161.50) scale(0.985 1)" font-size="58.0">4d</text><text x="1673.77" y="128.10" font-size="40.5">2</text><text transform="translate(1697.34 161.50) scale(0.967 1)" font-size="61.5">D</text><text x="1740.48" y="184.90" font-size="40.5">3/2</text><text transform="translate(2087.74 200.70) scale(0.929 1)" font-size="111.1">S</text><text transform="translate(2155.52 200.70) scale(1.02 1)" font-size="102.2">e</text><text transform="translate(2213.30 141.05) scale(0.93 1)" font-size="75.3">5</text><text transform="translate(2252.26 145.17) scale(1.07 1)" font-size="69.5">+</text><text transform="translate(1467.09 288.10) scale(0.985 1)" font-size="58.0">ΔE <tspan dy="6.3">=</tspan><tspan dy="-6.3"> 28 meV</tspan></text><text transform="translate(336.61 937.20) scale(0.985 1)" font-size="58.0">3d</text><text x="401.76" y="905.20" font-size="40.5">10</text><text transform="translate(447.51 937.20) scale(0.985 1)" font-size="58.0">5s</text><text x="522.77" y="905.20" font-size="40.5">2</text><text transform="translate(548.90 937.20) scale(0.95 1)" font-size="59.0">S</text><text x="589.06" y="961.80" font-size="40.5">1/2</text><text transform="translate(963.74 990.80) scale(0.929 1)" font-size="111.1">S</text><text transform="translate(1031.52 990.80) scale(1.02 1)" font-size="102.2">e</text><text transform="translate(1089.10 931.15) scale(0.93 1)" font-size="75.3">5</text><text transform="translate(1128.06 935.27) scale(1.07 1)" font-size="69.5">+</text><text transform="translate(343.39 1031.70) scale(0.985 1)" font-size="58.0">ΔE <tspan dy="6.3">=</tspan><tspan dy="-6.3"> 28 meV</tspan></text><text transform="translate(1449.61 924.50) scale(0.985 1)" font-size="58.0">3d</text><text x="1515.97" y="891.90" font-size="40.5">10</text><text transform="translate(1560.86 924.50) scale(0.985 1)" font-size="58.0">4d</text><text x="1639.97" y="891.90" font-size="40.5">2</text><text transform="translate(1664.14 924.50) scale(0.967 1)" font-size="61.5">D</text><text x="1707.38" y="947.90" font-size="40.5">5/2</text><text transform="translate(2070.84 993.90) scale(0.929 1)" font-size="111.1">S</text><text transform="translate(2138.62 993.90) scale(1.02 1)" font-size="102.2">e</text><text transform="translate(2196.20 934.25) scale(0.93 1)" font-size="75.3">5</text><text transform="translate(2235.16 938.37) scale(1.07 1)" font-size="69.5">+</text><text transform="translate(1454.19 1037.50) scale(0.985 1)" font-size="58.0">ΔE <tspan dy="6.3">=</tspan><tspan dy="-6.3"> 28 meV</tspan></text><text transform="translate(933.41 1651.8) scale(0.97 1)" font-size="103.0">Photon energy (eV)</text><text transform="translate(109.0 1259.69) rotate(-90) scale(0.96 1)" font-size="104.0">Cross section (Mb)</text></g></svg></body></html>
